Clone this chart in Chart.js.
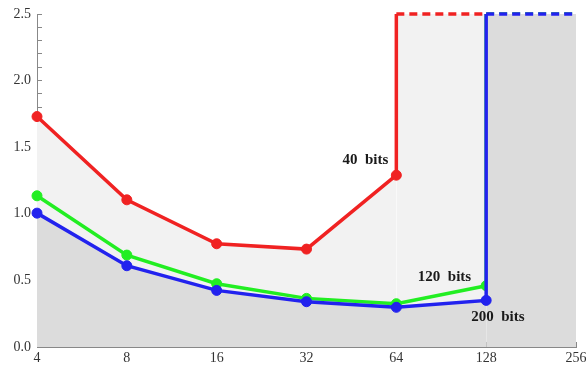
<!DOCTYPE html>
<html>
<head>
<meta charset="utf-8">
<script src="https://cdn.jsdelivr.net/npm/chart.js@4/dist/chart.umd.min.js"></script>
<style>
  html, body { margin: 0; padding: 0; background: #ffffff; }
  #wrap { width: 586px; height: 369px; position: relative; }
</style>
</head>
<body>
<div id="wrap"><canvas id="c"></canvas></div>
<script>
// ---- data ----
const xValues   = [4, 8, 16, 32, 64, 128];
const xTicks    = [4, 8, 16, 32, 64, 128, 256];
const red40     = [1.73, 1.105, 0.775, 0.735, 1.29];          // 40 bits (ends at 64)
const green120  = [1.135, 0.69, 0.475, 0.365, 0.325, 0.46];   // 120 bits
const blue200   = [1.005, 0.61, 0.425, 0.34, 0.298, 0.35];    // 200 bits
const capValue  = 2.5;   // curves jump off the top of the chart here
const redCapEnd = 128;
const gbCapEnd  = 256;
const yMin = 0, yMax = 2.5, yStep = 0.1;
const labels = [
  { text: '40  bits',  x: 64,  y: 1.40, align: 'right', dx: -8 },
  { text: '120  bits', x: 128, y: 0.525, align: 'right', dx: -15 },
  { text: '200  bits', x: 128, y: 0.228, align: 'left', dx: -15 }
];

function buildSeries(vals, endX) {
  const pts = vals.map((v, i) => ({ x: xValues[i], y: v }));
  const lastX = xValues[vals.length - 1];
  pts.push({ x: lastX, y: capValue });
  pts.push({ x: endX, y: capValue });
  return pts;
}

const dashSeg = {
  borderDash: ctx => (ctx.p0.parsed.y === capValue && ctx.p1.parsed.y === capValue) ? [8, 5] : undefined
};
const ptRadius = ctx => (ctx.raw && ctx.raw.y === capValue) ? 0 : 5;

const datasets = [
  {
    label: '200 bits',
    data: buildSeries(blue200, gbCapEnd),
    borderColor: '#2222ee', pointBackgroundColor: '#2222ee', pointBorderColor: '#2222ee',
    backgroundColor: '#dcdcdc', fill: 'origin',
    borderWidth: 3.5, pointRadius: ptRadius, pointBorderWidth: 1, segment: dashSeg, clip: 8, tension: 0
  },
  {
    label: '120 bits',
    data: buildSeries(green120, gbCapEnd),
    borderColor: '#22ee22', pointBackgroundColor: '#22ee22', pointBorderColor: '#22ee22',
    fill: false,
    borderWidth: 3.5, pointRadius: ptRadius, pointBorderWidth: 1, segment: dashSeg, clip: 8, tension: 0
  },
  {
    label: '40 bits',
    data: buildSeries(red40, redCapEnd),
    borderColor: '#f02222', pointBackgroundColor: '#f02222', pointBorderColor: '#f02222',
    backgroundColor: '#f2f2f2', fill: 'origin',
    borderWidth: 3.5, pointRadius: ptRadius, pointBorderWidth: 1, segment: dashSeg, clip: 8, tension: 0
  }
];

const textPlugin = {
  id: 'bitLabels',
  afterDatasetsDraw(chart) {
    const ctx = chart.ctx;
    const xs = chart.scales.x, ys = chart.scales.y;
    ctx.save();
    ctx.font = 'bold 15px "Liberation Serif", "Times New Roman", serif';
    ctx.fillStyle = '#1a1a1a';
    ctx.textBaseline = 'middle';
    labels.forEach(l => {
      ctx.textAlign = l.align;
      ctx.fillText(l.text, xs.getPixelForValue(l.x) + l.dx, ys.getPixelForValue(l.y));
    });
    ctx.restore();
  }
};

const tickFont = { family: '"Liberation Serif", "Times New Roman", serif', size: 14 };

new Chart(document.getElementById('c'), {
  type: 'line',
  data: { datasets },
  plugins: [textPlugin],
  options: {
    responsive: true,
    maintainAspectRatio: false,
    animation: false,
    layout: { padding: { top: 14, right: 10, left: 0, bottom: 0 } },
    plugins: { legend: { display: false }, tooltip: { enabled: false } },
    scales: {
      x: {
        type: 'logarithmic',
        min: xTicks[0], max: xTicks[xTicks.length - 1],
        afterBuildTicks: s => { s.ticks = xTicks.map(v => ({ value: v })); },
        afterFit: s => { s.height = 22; s.paddingLeft = 0; s.paddingRight = 0; },
        ticks: {
          autoSkip: false, maxRotation: 0, color: '#333', font: tickFont, padding: 8,
          callback: (v) => String(v)
        },
        grid: { drawOnChartArea: false, tickLength: -5, color: '#888', tickWidth: 1 },
        border: { color: '#888', width: 1 }
      },
      y: {
        type: 'linear', min: yMin, max: yMax,
        afterFit: s => { s.width = 37; s.paddingTop = 0; s.paddingBottom = 0; },
        ticks: {
          stepSize: yStep, autoSkip: false, color: '#333', font: tickFont, padding: 11,
          callback: v => {
            const r = Math.round(v * 10);
            return (r % 5 === 0) ? (r / 10).toFixed(1) : '';
          }
        },
        grid: { drawOnChartArea: false, tickLength: -5, color: '#888', tickWidth: 1 },
        border: { color: '#888', width: 1 }
      }
    }
  }
});
</script>
</body>
</html>
